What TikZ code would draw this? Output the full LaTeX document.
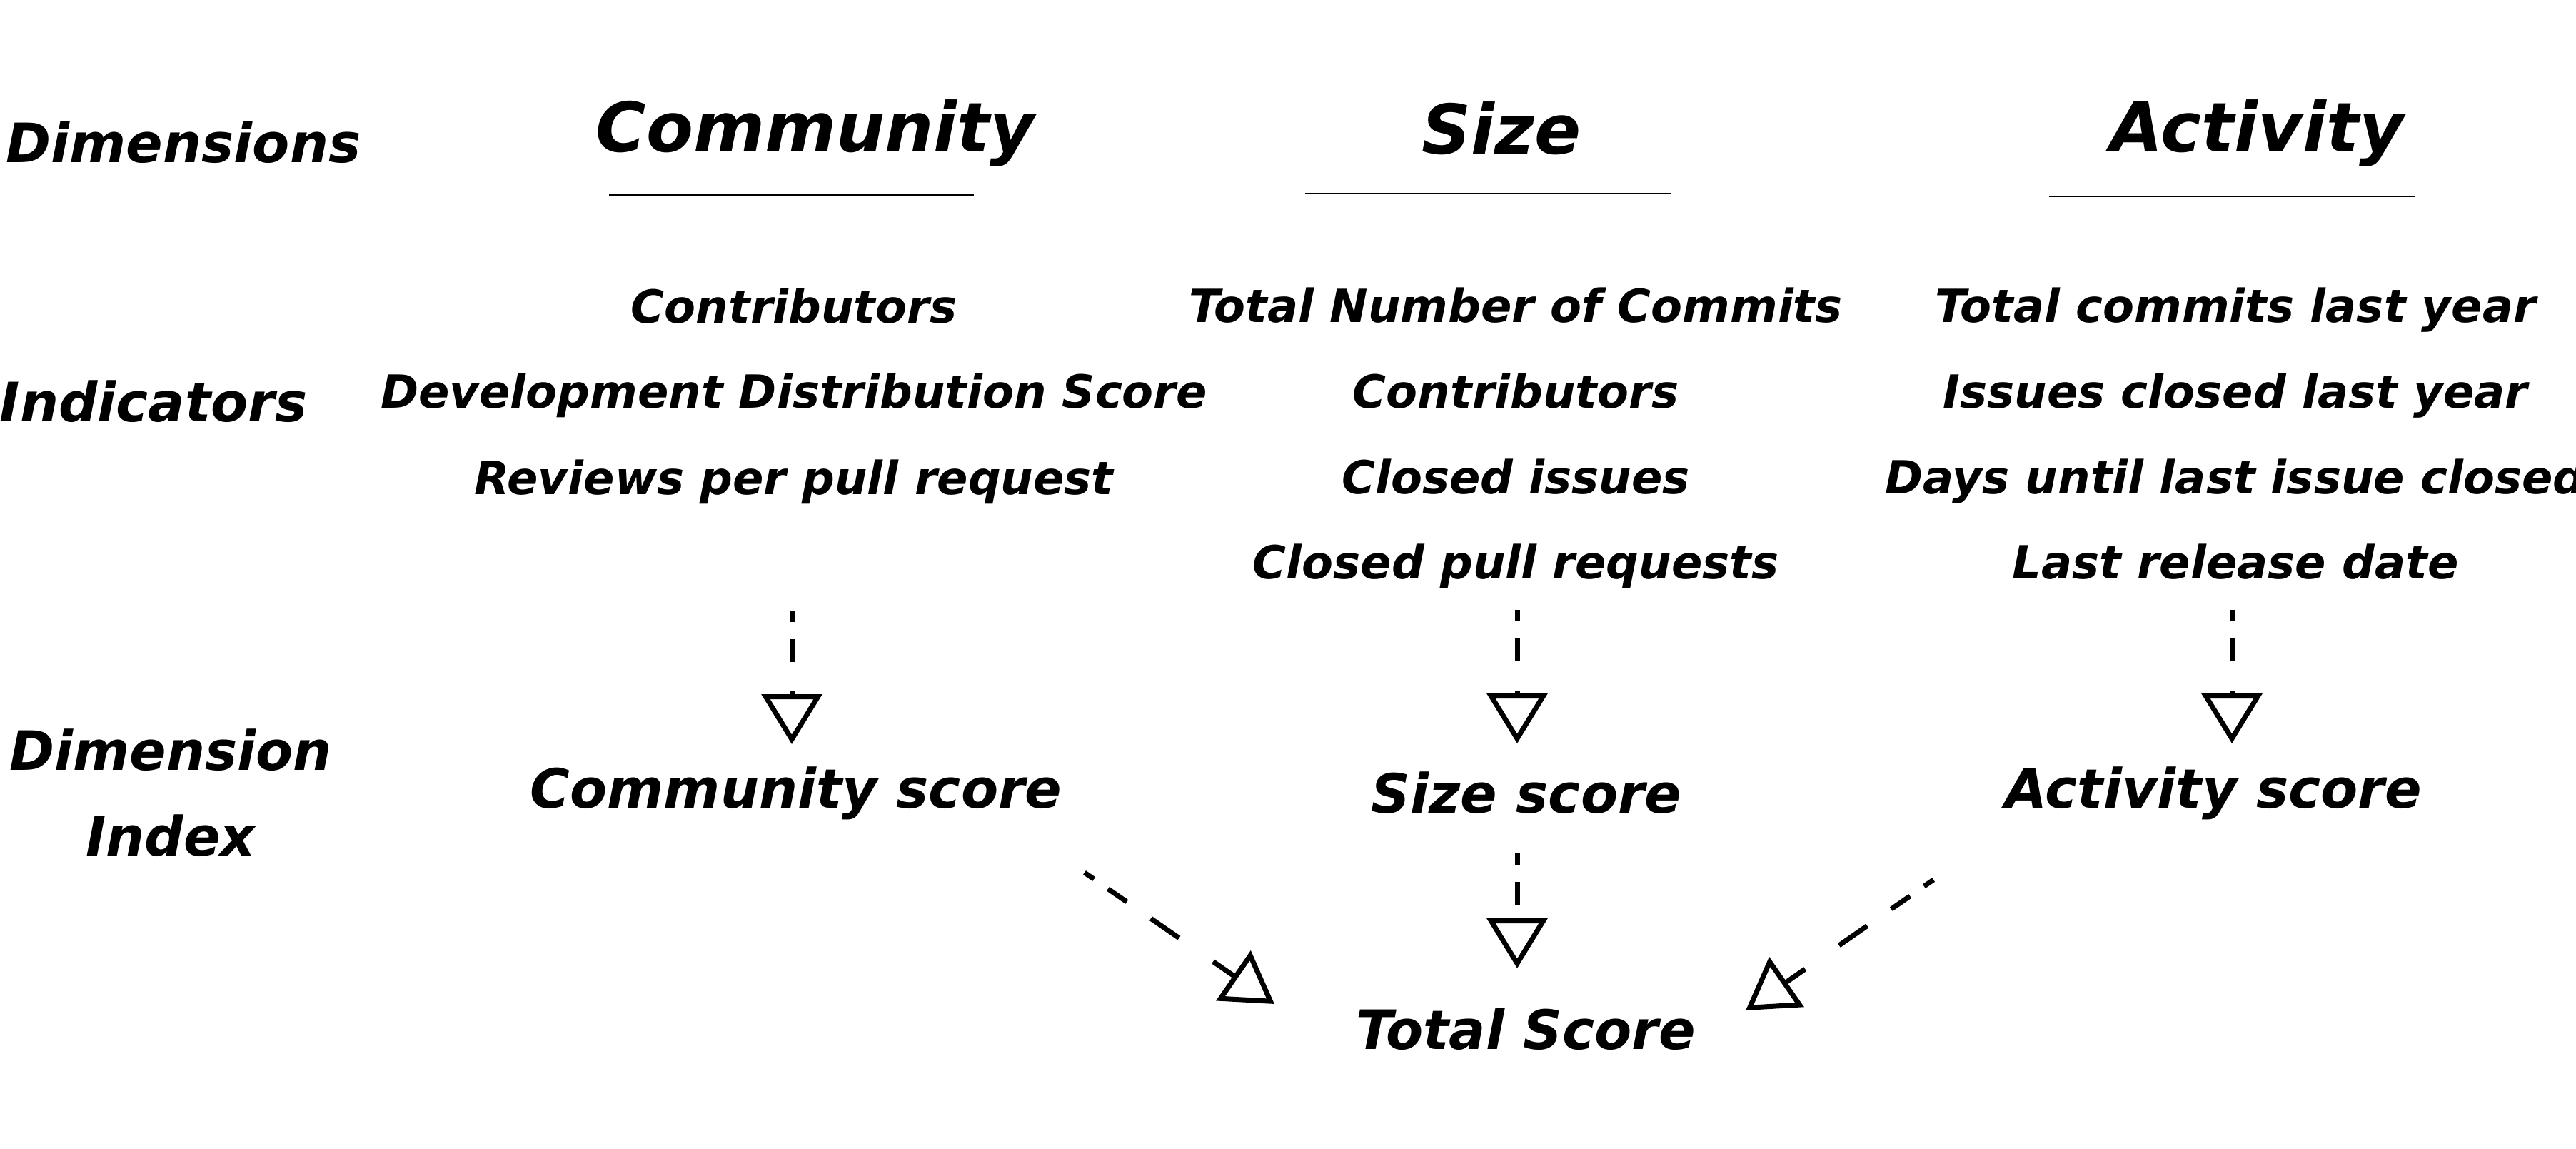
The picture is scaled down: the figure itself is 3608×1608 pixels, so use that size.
\documentclass[tikz,border=0pt]{standalone}
\usepackage{fontspec}
\setmainfont{DejaVu Sans}
\usetikzlibrary{arrows.meta, positioning}

\begin{document}
\begin{tikzpicture}[
        x=0.25pt, y=-0.25pt,
        heading/.style={font=\fontsize{24}{29}\selectfont\bfseries\itshape, anchor=base, inner sep=0pt},
        rowlabel/.style={font=\fontsize{19}{30}\selectfont\bfseries\itshape, inner sep=0pt},
        indicator/.style={font=\fontsize{16}{19}\selectfont\bfseries\itshape, anchor=base, inner sep=0pt},
        score/.style={font=\fontsize{19}{23}\selectfont\bfseries\itshape, anchor=base, inner sep=0pt},
        rule/.style={line width=0.6pt},
        flow/.style={line width=1.75pt, dash pattern=on 4pt off 6pt on 8pt off 10.25pt on 12pt off 14.5pt on 16pt off 16pt, -{Triangle[open, length=17.5pt, width=21pt]}}
    ]
    \useasboundingbox (0,0) rectangle (3608,1608);

    % row labels
    \node [rowlabel, anchor=base] (dims) at (257,227) {Dimensions};
    \node [rowlabel, anchor=base] (inds) at (215,590) {Indicators};
    \node [rowlabel, align=center] (dimindex) at (239,1110) {Dimension\\Index};

    % dimensions
    \node [heading] (community) at (1142,212) {Community};
    \node [heading] (size) at (2103,215) {Size};
    \node [heading] (activity) at (3161,212) {Activity};
    \draw [rule] (853,273) -- (1364,273);
    \draw [rule] (1828,271) -- (2340,271);
    \draw [rule] (2870,275) -- (3383,275);

    % indicators
    \node [indicator] (comm-a) at (1112,452) {Contributors};
    \node [indicator] (comm-b) at (1112,571) {Development Distribution Score};
    \node [indicator] (comm-c) at (1112,692) {Reviews per pull request};

    \node [indicator] (size-a) at (2123,451) {Total Number of Commits};
    \node [indicator] (size-b) at (2123,571) {Contributors};
    \node [indicator] (size-c) at (2123,691) {Closed issues};
    \node [indicator] (size-d) at (2123,810) {Closed pull requests};

    \node [indicator] (act-a) at (3131,451) {Total commits last year};
    \node [indicator] (act-b) at (3131,571) {Issues closed last year};
    \node [indicator] (act-c) at (3131,691) {Days until last issue closed};
    \node [indicator] (act-d) at (3131,810) {Last release date};

    % scores
    \node [score] (comm-score) at (1115,1131) {Community score};
    \node [score] (size-score) at (2138,1138) {Size score};
    \node [score] (act-score) at (3100,1131) {Activity score};
    \node [score] (total) at (2137,1469) {Total Score};

    % arrow ends
    \coordinate (comm-in) at (1109,855);
    \coordinate (comm-to) at (1109,1042);
    \coordinate (size-in) at (2125,854);
    \coordinate (size-to) at (2125,1041);
    \coordinate (act-in) at (3126,854);
    \coordinate (act-to) at (3126,1041);
    \coordinate (mid-in) at (2125,1195);
    \coordinate (mid-to) at (2125,1356);
    \coordinate (left-in) at (1519,1222);
    \coordinate (left-to) at (1785,1406);
    \coordinate (right-in) at (2708,1232);
    \coordinate (right-to) at (2445,1415);

    \draw [flow] (comm-in) -- (comm-to);
    \draw [flow] (size-in) -- (size-to);
    \draw [flow] (act-in) -- (act-to);
    \draw [flow] (mid-in) -- (mid-to);
    \draw [flow] (left-in) -- (left-to);
    \draw [flow] (right-in) -- (right-to);
\end{tikzpicture}
\end{document}
